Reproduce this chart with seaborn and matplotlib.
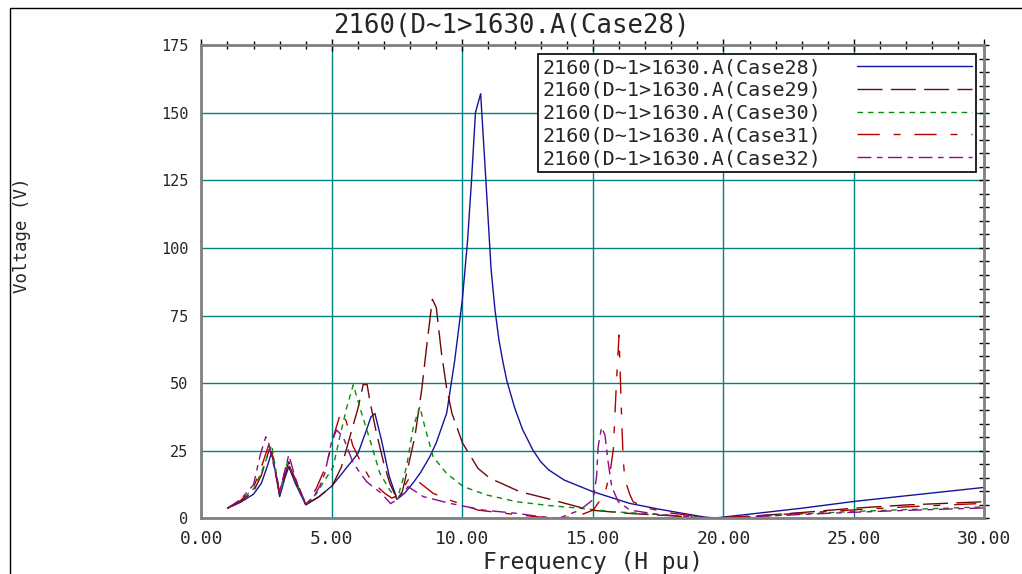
import matplotlib
matplotlib.use("Agg")
import matplotlib.pyplot as plt
import seaborn as sns
import pandas as pd
from matplotlib.ticker import MultipleLocator, FormatStrFormatter
from matplotlib.patches import Rectangle

# harmonic scan results
freq_28 = [1.0, 1.5, 2.0, 2.3, 2.55, 2.7, 3.0, 3.2, 3.35, 3.6, 4.0, 4.5, 5.0, 5.5, 6.0, 6.3,
           6.5, 6.65, 6.9, 7.2, 7.5, 7.8, 8.1, 8.4, 8.75, 9.0, 9.4, 9.7, 10.0, 10.2, 10.35,
           10.5, 10.7, 10.9, 11.1, 11.25, 11.4, 11.55, 11.7, 11.85, 12.0, 12.3, 12.7, 13.0,
           13.3, 13.9, 15.0, 16.4, 17.5, 18.5, 19.3, 19.7, 21.0, 23.0, 25.0, 27.0, 30.0]
volt_28 = [3.8, 6.0, 9.0, 13.0, 20.0, 24.7, 8.1, 15.0, 19.1, 13.0, 5.0, 8.0, 12.0, 18.0, 24.0, 32.0,
           37.6, 38.8, 29.0, 15.5, 7.1, 9.5, 13.0, 17.0, 22.8, 28.0, 39.0, 58.0, 81.0, 103.0, 125.0,
           150.0, 157.0, 125.0, 92.0, 77.0, 66.0, 58.0, 51.0, 46.0, 41.0, 33.0, 25.3, 21.0,
           18.0, 14.2, 9.9, 5.6, 3.5, 1.8, 0.5, 0.2, 1.6, 3.8, 6.3, 8.4, 11.5]

freq_29 = [1.0, 1.5, 2.0, 2.3, 2.6, 2.75, 3.0, 3.35, 3.6, 4.0, 4.5, 5.0, 5.37, 5.69, 6.0, 6.2,
           6.35, 6.46, 6.71, 7.0, 7.22, 7.5, 7.7, 7.92, 8.18, 8.44, 8.63, 8.85, 9.0, 9.2, 9.4,
           9.6, 10.0, 10.6, 11.05, 12.2, 13.2, 14.9, 16.5, 18.0, 19.5, 21.0, 23.0, 25.0, 27.0, 30.0]
volt_29 = [3.8, 6.3, 10.0, 16.0, 25.5, 22.0, 9.0, 21.0, 14.0, 5.2, 8.0, 11.8, 19.1, 30.2, 40.7, 49.5,
           49.5, 43.2, 31.5, 20.0, 13.0, 7.0, 10.0, 19.1, 30.2, 47.5, 63.5, 81.0, 78.0, 61.0, 48.0,
           38.9, 28.0, 18.5, 14.9, 9.9, 7.5, 3.1, 1.8, 1.0, 0.1, 0.8, 2.2, 3.8, 5.0, 6.2]

freq_30 = [1.0, 1.5, 2.0, 2.3, 2.69, 3.0, 3.3, 3.6, 4.0, 4.4, 4.73, 5.05, 5.3, 5.56, 5.82, 6.14,
           6.46, 6.84, 7.22, 7.5, 7.86, 8.12, 8.37, 8.56, 8.88, 9.39, 10.03, 10.93, 12.08, 13.3,
           14.5, 15.78, 17.0, 18.5, 19.5, 21.0, 23.0, 25.0, 27.0, 30.0]
volt_30 = [3.8, 6.5, 11.0, 17.0, 27.2, 9.5, 21.0, 14.0, 5.3, 9.0, 14.2, 19.1, 30.0, 40.7, 49.4, 38.9,
           29.0, 16.7, 10.5, 7.0, 19.1, 33.9, 41.3, 33.9, 22.8, 16.7, 11.8, 8.7, 6.2, 4.8,
           3.8, 2.5, 1.8, 0.8, 0.1, 0.6, 1.7, 2.6, 3.3, 4.3]

freq_31 = [1.0, 1.5, 2.0, 2.3, 2.62, 3.0, 3.3, 3.6, 4.0, 4.4, 4.8, 5.1, 5.35, 5.55, 5.8, 6.1,
           6.5, 7.0, 7.3, 7.6, 8.0, 8.24, 8.88, 9.52, 10.6, 12.0, 13.2, 13.8, 14.5, 15.01,
           15.46, 15.65, 15.78, 15.9, 16.0, 16.1, 16.16, 16.23, 16.42, 16.54, 17.0, 18.0,
           19.5, 21.0, 23.0, 25.0, 27.0, 30.0]
volt_31 = [3.8, 6.6, 11.5, 19.0, 28.4, 9.5, 21.0, 14.5, 5.3, 11.0, 20.0, 31.5, 39.5, 36.0, 27.0, 21.0,
           14.0, 9.5, 7.5, 9.0, 15.5, 14.2, 9.3, 6.8, 3.1, 1.5, 0.3, 0.1, 1.2, 3.1,
           9.3, 16.7, 25.3, 50.0, 67.8, 37.0, 21.6, 14.2, 8.7, 6.2, 4.0, 2.0,
           0.2, 0.8, 2.0, 3.2, 4.3, 5.6]

freq_32 = [1.0, 1.5, 2.0, 2.24, 2.37, 2.47, 2.55, 3.0, 3.35, 3.6, 4.0, 4.3, 4.54, 4.73, 4.99, 5.18,
           5.43, 5.82, 6.33, 6.9, 7.25, 7.5, 7.92, 8.5, 9.52, 10.8, 12.08, 12.97, 13.7, 14.5,
           15.01, 15.14, 15.2, 15.33, 15.46, 15.59, 15.72, 15.97, 16.42, 17.5, 19.5, 21.0,
           23.0, 25.0, 27.0, 30.0]
volt_32 = [3.8, 7.0, 12.5, 22.8, 27.2, 30.2, 29.0, 10.0, 23.5, 15.0, 5.3, 8.0, 12.0, 16.7, 28.4, 32.7,
           30.2, 20.4, 13.6, 9.3, 5.5, 7.0, 11.8, 8.1, 5.6, 3.1, 1.9, 0.7, 0.1, 3.1,
           7.0, 15.5, 26.5, 33.7, 30.9, 20.4, 11.8, 6.2, 3.1, 1.5, 0.1, 0.6,
           1.5, 2.3, 3.0, 3.9]

labels = ["2160(D~1>1630.A(Case28)", "2160(D~1>1630.A(Case29)", "2160(D~1>1630.A(Case30)",
          "2160(D~1>1630.A(Case31)", "2160(D~1>1630.A(Case32)"]

series = [(freq_28, volt_28), (freq_29, volt_29), (freq_30, volt_30),
          (freq_31, volt_31), (freq_32, volt_32)]
colors = ["#14149a", "#6e0808", "#0c8c0c", "#b00000", "#8c0a8c"]
styles = ["-", (0, (18, 6)), (0, (4, 3.5)), (0, (16, 10, 5, 10)), (0, (10, 4, 4, 4))]

sns.set_style("white")
plt.rcParams["font.family"] = ["DejaVu Sans Mono"]

fig = plt.figure(figsize=(10.22, 5.74), dpi=100)
ax = fig.add_axes([0.197, 0.0967, 0.7663, 0.8249])

for (f, v), lab, c, ls in zip(series, labels, colors, styles):
    df = pd.DataFrame({"freq": f, "volt": v})
    sns.lineplot(data=df, x="freq", y="volt", ax=ax, color=c, linestyle=ls,
                 linewidth=1.0, label=lab, sort=False, estimator=None)

ax.set_xlim(0, 30)
ax.set_ylim(0, 175)
ax.xaxis.set_major_locator(MultipleLocator(5))
ax.xaxis.set_minor_locator(MultipleLocator(1))
ax.yaxis.set_major_locator(MultipleLocator(25))
ax.yaxis.set_minor_locator(MultipleLocator(5))
ax.xaxis.set_major_formatter(FormatStrFormatter("%.2f"))

ax.grid(which="major", color="#008080", linewidth=1.0)
ax.set_axisbelow(True)
for sp in ax.spines.values():
    sp.set_color("#808080")
    sp.set_linewidth(2.0)

ax.tick_params(which="both", direction="inout", top=True, right=True, color="black", width=1)
ax.tick_params(axis="x", which="major", length=9, labelsize=13, pad=4)
ax.tick_params(axis="x", which="minor", length=6)
ax.tick_params(axis="y", which="both", length=6.5, labelsize=11, pad=6)

ax.set_xlabel("Frequency (H pu)", fontsize=16.5)
ax.xaxis.set_label_coords(0.5, -0.068)
ax.set_ylabel("")
fig.text(0.0215, 0.59, "Voltage (V)", rotation=90, ha="center", va="center", fontsize=12.5)
fig.text(0.5, 0.9547, "2160(D~1>1630.A(Case28)", ha="center", va="center", fontsize=18.5)

leg = ax.legend(loc="upper right", bbox_to_anchor=(976 / 1022, 1 - 54 / 574),
                bbox_transform=fig.transFigure, borderaxespad=0, fontsize=14.5,
                markerfirst=False, handlelength=5.7, handletextpad=1.8,
                labelspacing=0.19, borderpad=0.2, fancybox=False, framealpha=1)
leg.get_frame().set_edgecolor("black")
leg.get_frame().set_linewidth(1.2)

fig.patches.append(Rectangle((10 / 1022, -0.1), 2, 1.1 - 8 / 574, transform=fig.transFigure,
                             fill=False, edgecolor="black", linewidth=1.0))

fig.savefig("out.png", dpi=100)
plt.close(fig)
